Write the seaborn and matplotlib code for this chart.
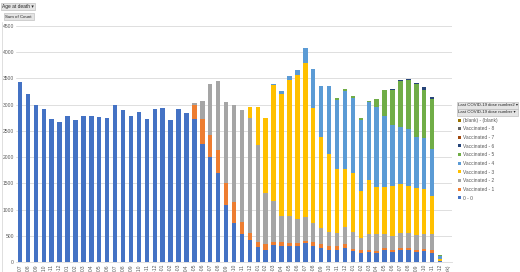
import matplotlib
matplotlib.use("Agg")
import matplotlib.pyplot as plt
import seaborn as sns
import numpy as np
from matplotlib.patches import Rectangle

months = ["2019-07", "2019-08", "2019-09", "2019-10", "2019-11", "2019-12",
          "2020-01", "2020-02", "2020-03", "2020-04", "2020-05", "2020-06",
          "2020-07", "2020-08", "2020-09", "2020-10", "2020-11", "2020-12",
          "2021-01", "2021-02", "2021-03", "2021-04", "2021-05", "2021-06",
          "2021-07", "2021-08", "2021-09", "2021-10", "2021-11", "2021-12",
          "2022-01", "2022-02", "2022-03", "2022-04", "2022-05", "2022-06",
          "2022-07", "2022-08", "2022-09", "2022-10", "2022-11", "2022-12",
          "2023-01", "2023-02", "2023-03", "2023-04", "2023-05", "2023-06",
          "2023-07", "2023-08", "2023-09", "2023-10", "2023-11", "2023-12",
          "(blank)"]

dose0 = [3430, 3210, 3000, 2920, 2730, 2670, 2780, 2700, 2780, 2780, 2770, 2740,
         3000, 2890, 2780, 2860, 2720, 2920, 2930, 2700, 2910, 2840, 2725, 2244,
         2007, 1699, 1090, 750, 530, 417, 289, 238, 315, 302, 302, 302,
         353, 308, 270, 238, 238, 270, 212, 180, 193, 174, 225, 193,
         225, 225, 193, 206, 180, 10, 0]
dose1 = [0, 0, 0, 0, 0, 0, 0, 0, 0, 0, 0, 0,
         0, 0, 0, 0, 0, 0, 0, 0, 0, 0, 275, 481,
         410, 429, 417, 392, 240, 141, 96, 102, 70, 83, 64, 64,
         51, 71, 70, 64, 64, 64, 45, 45, 45, 45, 45, 45,
         45, 45, 45, 45, 45, 2, 0]
dose2 = [0, 0, 0, 0, 0, 0, 0, 0, 0, 0, 0, 0,
         0, 0, 0, 0, 0, 0, 0, 0, 0, 0, 30, 352,
         981, 1314, 1538, 1852, 2129, 2179, 1840, 974, 769, 500, 519, 455,
         449, 359, 301, 275, 256, 340, 320, 237, 288, 307, 256, 263,
         288, 288, 275, 282, 308, 10, 0]
dose3 = [0, 0, 0, 0, 0, 0, 0, 0, 0, 0, 0, 0,
         0, 0, 0, 0, 0, 0, 0, 0, 0, 0, 0, 0,
         0, 0, 0, 0, 0, 225, 737, 1423, 2212, 2320, 2577, 2737,
         2948, 2198, 1750, 1487, 1218, 1102, 1122, 885, 1032, 904, 898, 955,
         936, 898, 898, 859, 718, 40, 0]
dose4 = [0, 0, 0, 0, 0, 0, 0, 0, 0, 0, 0, 0,
         0, 0, 0, 0, 0, 0, 0, 0, 0, 0, 0, 0,
         0, 0, 0, 0, 0, 0, 0, 0, 32, 64, 77, 96,
         289, 737, 962, 1289, 1314, 1494, 1430, 1365, 1487, 1532, 1365, 1154,
         1071, 1077, 981, 968, 910, 45, 0]
dose5 = [0, 0, 0, 0, 0, 0, 0, 0, 0, 0, 0, 0,
         0, 0, 0, 0, 0, 0, 0, 0, 0, 0, 0, 0,
         0, 0, 0, 0, 0, 0, 0, 0, 0, 0, 0, 0,
         0, 0, 0, 0, 32, 32, 32, 32, 20, 148, 494, 679,
         878, 929, 993, 929, 949, 30, 0]
dose6 = [0] * 47 + [10, 32, 32, 32, 39, 44, 0, 0]
dose7 = [0] * 55
dose8 = [0] * 55
blank = [0] * 55

series_names = ["0 - 0", "Vaccinated - 1", "Vaccinated - 2", "Vaccinated - 3",
                "Vaccinated - 4", "Vaccinated - 5", "Vaccinated - 6",
                "Vaccinated - 7", "Vaccinated - 8", "(blank) - (blank)"]
colors = ["#4472C4", "#ED7D31", "#A5A5A5", "#FFC000", "#5B9BD5", "#70AD47",
          "#264478", "#9E480E", "#636363", "#997300"]
yticks = [0, 500, 1000, 1500, 2000, 2500, 3000, 3500, 4000, 4500]

sns.set_theme(style="white")
plt.rcParams['font.family'] = ['Liberation Sans', 'DejaVu Sans']

W, H = 520, 272
fig = plt.figure(figsize=(W / 100, H / 100), dpi=100)
fig.patch.set_facecolor("white")
ax = fig.add_axes([16 / W, 10 / H, 436 / W, 236 / H])

layers = np.array([dose0, dose1, dose2, dose3, dose4, dose5, dose6, dose7, dose8, blank], dtype=float)
cum = np.cumsum(layers, axis=0)
for k in reversed(range(len(layers))):
    sns.barplot(x=months, y=cum[k], order=months, color=colors[k], saturation=1,
                width=0.56, errorbar=None, linewidth=0, ax=ax, zorder=3)

ax.set_xlim(-0.5, len(months) - 0.5)
ax.set_ylim(0, 4500)
ax.set_yticks(yticks)
ax.set_yticklabels([str(v) for v in yticks], fontsize=3.6, color="#595959")
ax.set_xticks(range(len(months)))
ax.set_xticklabels(months, rotation=90, fontsize=3.6, color="#595959", va="top", ha="center")
ax.tick_params(axis="both", length=0, pad=1.5)
ax.set_xlabel("")
ax.set_ylabel("")
ax.grid(axis="y", color="#D9D9D9", linewidth=0.6, zorder=0)
ax.set_axisbelow(True)
for s in ["left", "right", "top"]:
    ax.spines[s].set_visible(False)
ax.spines["bottom"].set_color("#D9D9D9")
ax.spines["bottom"].set_linewidth(0.6)
ax.set_facecolor("none")

# overlay for pivot buttons and legend (pixel coordinates)
ov = fig.add_axes([0, 0, 1, 1], zorder=5)
ov.set_xlim(0, W)
ov.set_ylim(H, 0)
ov.axis("off")
ov.patch.set_alpha(0)

ov.plot([1.5, 1.5], [22, H], color="#D9D9D9", lw=0.6)

def button(x, y, w, h, label, fs=3.5):
    ov.add_patch(Rectangle((x, y), w, h, facecolor="#E4E4E4", edgecolor="#B4B4B4", lw=0.4))
    ov.text(x + 1.3, y + h / 2 + 0.2, label, fontsize=fs, color="#262626", va="center", ha="left")

button(1, 3, 34, 7, "Age at death \u25be")
button(4, 13, 30, 7, "Sum of Count", fs=3.2)
button(457, 102, 61, 6.5, "Last COVID-19 dose number2 \u25be", fs=3.1)
button(457, 109, 61, 6.5, "Last COVID-19 dose number \u25be", fs=3.1)

leg_y0 = 120
leg_dy = 8.65
for j, k in enumerate(reversed(range(len(series_names)))):
    yy = leg_y0 + j * leg_dy
    ov.add_patch(Rectangle((458, yy - 1.5), 3, 3, facecolor=colors[k], edgecolor="none"))
    ov.text(463, yy + 0.2, series_names[k], fontsize=3.5, color="#595959", va="center", ha="left")

fig.savefig("out.png", dpi=100, facecolor="white")
